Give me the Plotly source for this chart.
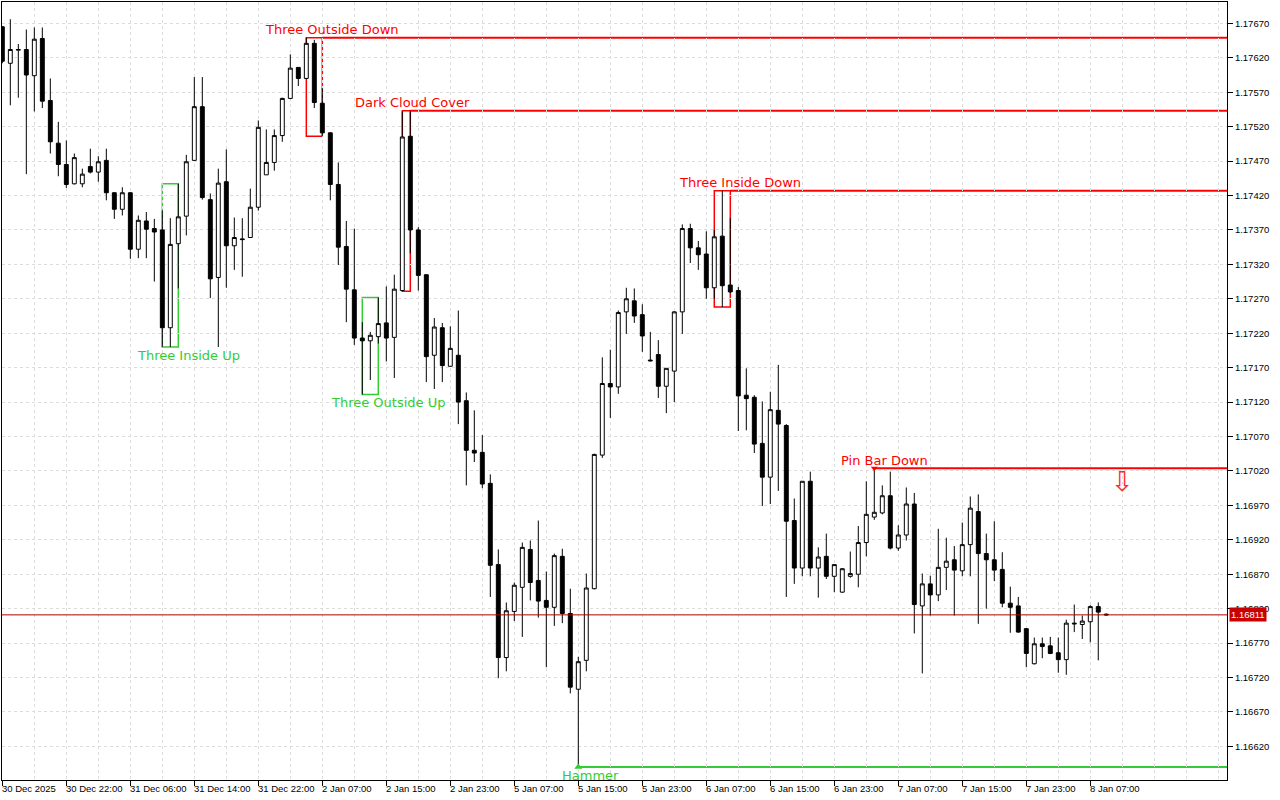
import plotly.graph_objects as go

# hourly bars, 30 Dec 2025 14:00 -> 8 Jan 2026 09:00
time_labels = ["30 Dec 2025", "30 Dec 22:00", "31 Dec 06:00", "31 Dec 14:00", "31 Dec 22:00",
               "2 Jan 07:00", "2 Jan 15:00", "2 Jan 23:00", "5 Jan 07:00", "5 Jan 15:00",
               "5 Jan 23:00", "6 Jan 07:00", "6 Jan 15:00", "6 Jan 23:00", "7 Jan 07:00",
               "7 Jan 15:00", "7 Jan 23:00", "8 Jan 07:00"]
tick_bars = [0, 8, 16, 24, 32, 40, 48, 56, 64, 72, 80, 88, 96, 104, 112, 120, 128, 136]

opens = [1.17665, 1.17612, 1.17631, 1.17632, 1.17594, 1.17648, 1.17558, 1.17496, 1.17465, 1.17437,
         1.17437, 1.17462, 1.17454, 1.17471, 1.17424, 1.17400, 1.17424, 1.17342, 1.17383, 1.17372,
         1.17370, 1.17228, 1.17350, 1.17390, 1.17471, 1.17549, 1.17414, 1.17301, 1.17440, 1.17347,
         1.17357, 1.17359, 1.17403, 1.17450, 1.17468, 1.17507, 1.17561, 1.17606, 1.17590, 1.17641,
         1.17554, 1.17511, 1.17436, 1.17346, 1.17283, 1.17213, 1.17209, 1.17215, 1.17235, 1.17214,
         1.17282, 1.17506, 1.17370, 1.17305, 1.17188, 1.17228, 1.17172, 1.17188, 1.17122, 1.17050,
         1.17047, 1.17002, 1.16884, 1.16749, 1.16816, 1.16851, 1.16906, 1.16861, 1.16832, 1.16822,
         1.16896, 1.16813, 1.16703, 1.16745, 1.16849, 1.17043, 1.17147, 1.17142, 1.17251, 1.17267,
         1.17247, 1.17181, 1.17189, 1.17143, 1.17165, 1.17251, 1.17372, 1.17344, 1.17335, 1.17286,
         1.17361, 1.17290, 1.17282, 1.17130, 1.17127, 1.17060, 1.17011, 1.17108, 1.17086, 1.16948,
         1.16879, 1.17005, 1.16879, 1.16896, 1.16867, 1.16844, 1.16867, 1.16870, 1.16916, 1.16953,
         1.16959, 1.16984, 1.16908, 1.16927, 1.16972, 1.16824, 1.16856, 1.16840, 1.16880, 1.16891,
         1.16875, 1.16913, 1.16961, 1.16900, 1.16891, 1.16877, 1.16828, 1.16824, 1.16791, 1.16740,
         1.16769, 1.16766, 1.16756, 1.16746, 1.16799, 1.16797, 1.16801, 1.16823, 1.16812]
highs = [1.17666, 1.17676, 1.17640, 1.17661, 1.17664, 1.17664, 1.17590, 1.17527, 1.17500, 1.17481,
         1.17459, 1.17488, 1.17477, 1.17488, 1.17425, 1.17432, 1.17425, 1.17391, 1.17396, 1.17386,
         1.17398, 1.17387, 1.17437, 1.17479, 1.17592, 1.17592, 1.17423, 1.17459, 1.17487, 1.17388,
         1.17387, 1.17430, 1.17529, 1.17516, 1.17516, 1.17562, 1.17625, 1.17606, 1.17649, 1.17646,
         1.17576, 1.17512, 1.17468, 1.17383, 1.17372, 1.17236, 1.17222, 1.17272, 1.17288, 1.17305,
         1.17542, 1.17543, 1.17374, 1.17305, 1.17242, 1.17235, 1.17230, 1.17253, 1.17134, 1.17108,
         1.17072, 1.17015, 1.16906, 1.16829, 1.16858, 1.16916, 1.16919, 1.16948, 1.16874, 1.16900,
         1.16907, 1.16849, 1.16750, 1.16871, 1.17045, 1.17185, 1.17196, 1.17253, 1.17286, 1.17285,
         1.17262, 1.17222, 1.17210, 1.17169, 1.17252, 1.17378, 1.17379, 1.17354, 1.17368, 1.17370,
         1.17427, 1.17387, 1.17287, 1.17169, 1.17130, 1.17121, 1.17135, 1.17174, 1.17088, 1.16980,
         1.17005, 1.17019, 1.16909, 1.16929, 1.16884, 1.16879, 1.16903, 1.16940, 1.17005, 1.17024,
         1.16999, 1.17019, 1.16941, 1.16996, 1.16988, 1.16871, 1.16868, 1.16936, 1.16923, 1.16911,
         1.16945, 1.16983, 1.16986, 1.16929, 1.16947, 1.16902, 1.16852, 1.16837, 1.16791, 1.16778,
         1.16778, 1.16779, 1.16778, 1.16804, 1.16826, 1.16810, 1.16825, 1.16829, 1.16813]
lows = [1.17612, 1.17551, 1.17562, 1.17451, 1.17542, 1.17547, 1.17481, 1.17448, 1.17431, 1.17436,
        1.17432, 1.17452, 1.17440, 1.17413, 1.17386, 1.17391, 1.17328, 1.17329, 1.17329, 1.17295,
        1.17200, 1.17200, 1.17285, 1.17362, 1.17471, 1.17414, 1.17271, 1.17200, 1.17286, 1.17312,
        1.17302, 1.17359, 1.17398, 1.17450, 1.17456, 1.17498, 1.17560, 1.17579, 1.17589, 1.17547,
        1.17506, 1.17413, 1.17319, 1.17236, 1.17203, 1.17131, 1.17152, 1.17205, 1.17179, 1.17155,
        1.17281, 1.17336, 1.17282, 1.17149, 1.17139, 1.17149, 1.17171, 1.17088, 1.16999, 1.17033,
        1.16995, 1.16837, 1.16719, 1.16729, 1.16802, 1.16779, 1.16832, 1.16807, 1.16735, 1.16795,
        1.16799, 1.16697, 1.16590, 1.16729, 1.16848, 1.17039, 1.17097, 1.17132, 1.17219, 1.17235,
        1.17193, 1.17179, 1.17126, 1.17104, 1.17120, 1.17219, 1.17322, 1.17312, 1.17270, 1.17270,
        1.17258, 1.17278, 1.17078, 1.17079, 1.17046, 1.16969, 1.16972, 1.16991, 1.16837, 1.16856,
        1.16867, 1.16867, 1.16836, 1.16863, 1.16844, 1.16843, 1.16865, 1.16851, 1.16896, 1.16949,
        1.16957, 1.16906, 1.16904, 1.16919, 1.16784, 1.16726, 1.16810, 1.16831, 1.16847, 1.16810,
        1.16867, 1.16867, 1.16798, 1.16820, 1.16860, 1.16822, 1.16785, 1.16785, 1.16735, 1.16739,
        1.16748, 1.16754, 1.16727, 1.16724, 1.16786, 1.16776, 1.16771, 1.16745, 1.16810]
closes = [1.17615, 1.17632, 1.17632, 1.17595, 1.17647, 1.17557, 1.17498, 1.17465, 1.17436, 1.17475,
          1.17451, 1.17454, 1.17469, 1.17424, 1.17400, 1.17424, 1.17342, 1.17384, 1.17371, 1.17367,
          1.17228, 1.17349, 1.17389, 1.17469, 1.17549, 1.17417, 1.17299, 1.17438, 1.17347, 1.17359,
          1.17356, 1.17403, 1.17519, 1.17468, 1.17507, 1.17561, 1.17605, 1.17590, 1.17641, 1.17555,
          1.17511, 1.17436, 1.17345, 1.17284, 1.17213, 1.17209, 1.17217, 1.17234, 1.17213, 1.17284,
          1.17505, 1.17370, 1.17304, 1.17186, 1.17229, 1.17173, 1.17198, 1.17120, 1.17050, 1.17046,
          1.17001, 1.16883, 1.16749, 1.16817, 1.16854, 1.16909, 1.16858, 1.16831, 1.16822, 1.16897,
          1.16813, 1.16706, 1.16743, 1.16850, 1.17044, 1.17147, 1.17142, 1.17250, 1.17270, 1.17245,
          1.17216, 1.17180, 1.17143, 1.17169, 1.17251, 1.17372, 1.17344, 1.17334, 1.17286, 1.17360,
          1.17289, 1.17280, 1.17129, 1.17125, 1.17059, 1.17011, 1.17109, 1.17088, 1.16947, 1.16879,
          1.17005, 1.16879, 1.16895, 1.16867, 1.16884, 1.16878, 1.16871, 1.16916, 1.16957, 1.16960,
          1.16984, 1.16908, 1.16927, 1.16972, 1.16826, 1.16856, 1.16840, 1.16880, 1.16889, 1.16876,
          1.16913, 1.16966, 1.16900, 1.16891, 1.16876, 1.16828, 1.16822, 1.16786, 1.16755, 1.16769,
          1.16765, 1.16755, 1.16746, 1.16799, 1.16798, 1.16802, 1.16823, 1.16815, 1.16811]

# (name, first bar, last bar, direction, draw box, draw level line)
patterns = [
    ("Three Inside Up", 20, 22, "up", True, False),
    ("Three Outside Down", 38, 40, "down", True, True),
    ("Three Outside Up", 45, 47, "up", True, False),
    ("Dark Cloud Cover", 50, 51, "down", True, True),
    ("Hammer", 72, 72, "up", False, True),
    ("Three Inside Down", 89, 91, "down", True, True),
    ("Pin Bar Down", 109, 109, "down", False, True),
]

current_price = 1.16811
signal_bar = 140
signal_price = 1.17004

RED = "#FF0000"
GREEN = "#32CD32"
GRID = "#DCDCDC"
AXIS_FONT = dict(family="Liberation Sans", size=9.5, color="black")
x_range = [-0.04, 153.09]
y_range = [1.165712, 1.17701]

bars = list(range(len(opens)))

fig = go.Figure()
fig.add_trace(go.Candlestick(
    x=bars, open=opens, high=highs, low=lows, close=closes,
    increasing=dict(fillcolor="white", line=dict(color="black", width=1)),
    decreasing=dict(fillcolor="black", line=dict(color="black", width=1)),
    whiskerwidth=0, hoverinfo="skip", showlegend=False,
))

# pattern boxes, level lines, labels
label_dx = {"Dark Cloud Cover": 0.25, "Hammer": 1.5}
for name, b0, b1, side, box, level in patterns:
    hi = max(highs[b0:b1 + 1])
    lo = min(lows[b0:b1 + 1])
    col = RED if side == "down" else GREEN
    if box:
        fig.add_shape(type="rect", xref="x", yref="y", x0=b0, x1=b1, y0=lo, y1=hi,
                      line=dict(color=col, width=1.5), layer="below")
    if level:
        yl = hi if side == "down" else lo
        fig.add_shape(type="line", xref="x", yref="y", x0=b1, x1=x_range[1], y0=yl, y1=yl,
                      line=dict(color=col, width=2), layer="below")
    fig.add_annotation(x=b1 + label_dx.get(name, 1.25), y=hi if side == "down" else lo,
                       text=name, showarrow=False, xanchor="center", yanchor="middle",
                       yshift=8 if side == "down" else -8,
                       font=dict(family="DejaVu Sans", size=13, color=col))

# small pattern markers
fig.add_trace(go.Scatter(x=[109], y=[highs[109]], mode="markers", hoverinfo="skip",
                         marker=dict(symbol="triangle-down", size=6, color=RED), showlegend=False))
fig.add_trace(go.Scatter(x=[72], y=[lows[72]], mode="markers", hoverinfo="skip",
                         marker=dict(symbol="triangle-up", size=7, color=GREEN), showlegend=False))

# sell signal arrow
fig.add_annotation(x=signal_bar, y=signal_price, text="⇩", showarrow=False,
                   font=dict(family="DejaVu Sans", size=27, color="#FF2A2A"))

# current price line and tag
fig.add_shape(type="line", xref="paper", yref="y", x0=0, x1=1, y0=current_price, y1=current_price,
              line=dict(color="#B00000", width=1), layer="above")
fig.add_annotation(xref="paper", yref="y", x=1, y=current_price, xanchor="left", xshift=2,
                   text=f"{current_price:.5f}", showarrow=False, bgcolor="#C80000",
                   borderpad=1, font=dict(family="Liberation Sans", size=9.5, color="white"))

# time labels, left aligned at their ticks
for b, lab in zip(tick_bars, time_labels):
    fig.add_annotation(x=b, xref="x", y=0, yref="paper", text=lab, showarrow=False,
                       xanchor="left", yanchor="top", yshift=-1, xshift=-2, font=AXIS_FONT)

fig.update_layout(
    width=1280, height=800,
    margin=dict(l=2, r=53, t=2, b=20),
    paper_bgcolor="white", plot_bgcolor="white",
    showlegend=False,
    xaxis=dict(range=x_range, rangeslider=dict(visible=False), tickmode="array", tickvals=tick_bars,
               showticklabels=False, ticks="outside", ticklen=5, tickcolor="black",
               showline=True, mirror=True, linecolor="black", linewidth=1, zeroline=False,
               showgrid=True, gridcolor=GRID, griddash="3px,3px", gridwidth=1, automargin=False,
               minor=dict(tickmode="linear", tick0=0, dtick=4, showgrid=True, gridcolor=GRID,
                          griddash="3px,3px", ticks="")),
    yaxis=dict(range=y_range, side="right", tickmode="linear", tick0=1.16620, dtick=0.0005,
               tickformat=".5f", ticks="outside", ticklen=5, tickcolor="black",
               showline=True, mirror=True, linecolor="black", linewidth=1, zeroline=False,
               showgrid=True, gridcolor=GRID, griddash="3px,3px", automargin=False,
               tickfont=AXIS_FONT),
)

# drop the default page margin so the figure sits at the window's corner
fig.write_html("out.html", config={"displayModeBar": False},
               post_script="document.body.style.margin='0';")
